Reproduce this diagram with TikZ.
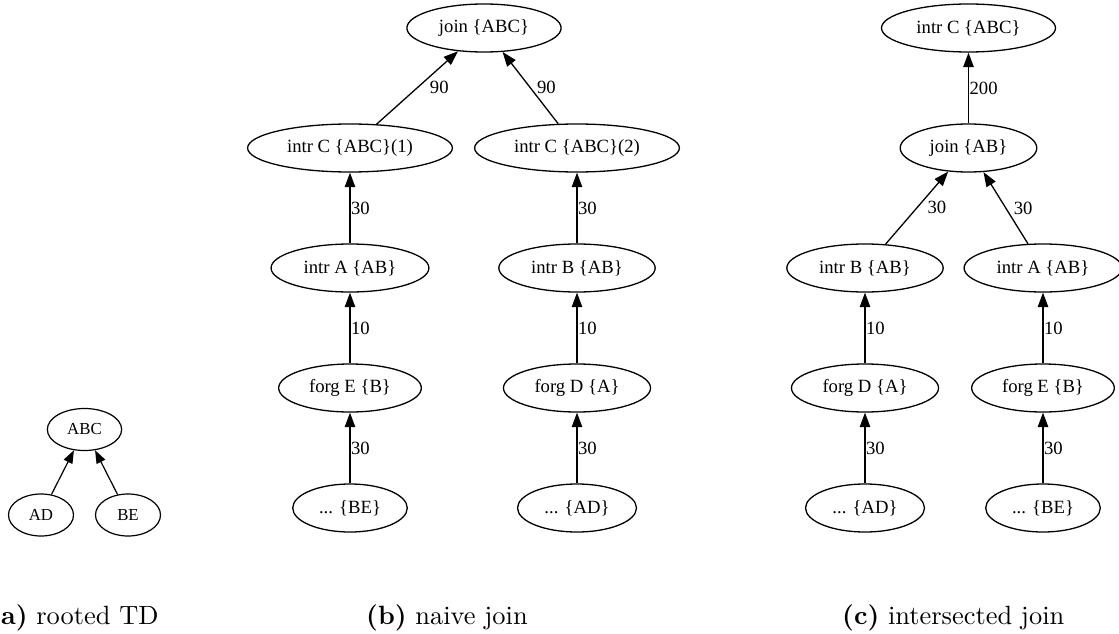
\documentclass[tikz,border=0pt]{standalone}
\usepackage{fontspec}
\newfontfamily\gvfont{Liberation Serif}
\newfontfamily\capfont{lmroman10-regular.otf}[BoldFont=lmroman10-bold.otf]
\usetikzlibrary{shapes.geometric, arrows.meta}

\tikzset{
  gvnode/.style={ellipse, draw, line width=1.3pt,
    font=\gvfont\fontsize{18.67}{22}\selectfont,
    inner xsep=9.5pt, inner ysep=0pt, minimum height=48pt},
  smnode/.style={ellipse, draw, line width=1.2pt,
    font=\gvfont\fontsize{16.8}{20}\selectfont,
    inner xsep=9pt, inner ysep=0pt, minimum height=42pt, minimum width=65pt},
  gvedge/.style={line width=1.3pt, -{Triangle[length=14.5pt,width=10.5pt]}},
  smedge/.style={line width=1.2pt, -{Triangle[length=13pt,width=9.5pt]}},
  lbl/.style={anchor=west, inner sep=0pt, font=\gvfont\fontsize{18.67}{22}\selectfont},
  caption/.style={anchor=base west, inner sep=0pt, font=\capfont\fontsize{26.4}{31}\selectfont}
}

\begin{document}
\begin{tikzpicture}[x=1pt, y=-1pt]
\useasboundingbox (0,0) rectangle (1119,634);

% (a) rooted tree decomposition
\node[smnode] (ABC) at (84.5,429.5) {ABC};
\node[smnode] (AD)  at (41,515)    {AD};
\node[smnode] (BE)  at (128,515)   {BE};
\draw[smedge] (AD) -- (ABC);
\draw[smedge] (BE) -- (ABC);

% (b) naive join
\node[gvnode] (bj)  at (484,28)  {join \{ABC\}};
\node[gvnode] (bc1) at (350,148) {intr C \{ABC\}(1)};
\node[gvnode] (bc2) at (577,148) {intr C \{ABC\}(2)};
\node[gvnode] (ba)  at (350,268) {intr A \{AB\}};
\node[gvnode] (bb)  at (577,268) {intr B \{AB\}};
\node[gvnode] (bfe) at (350,388) {forg E \{B\}};
\node[gvnode] (bfd) at (577,388) {forg D \{A\}};
\node[gvnode] (bbe) at (350,508) {... \{BE\}};
\node[gvnode] (bad) at (577,508) {... \{AD\}};

\draw[gvedge] (bc1) -- (bj)  node[lbl, midway, xshift=12pt] (lb1) {90};
\draw[gvedge] (bc2) -- (bj)  node[lbl, midway, xshift=6pt]  (lb2) {90};
\draw[gvedge] (ba)  -- (bc1) node[lbl, midway, xshift=0.5pt] (lb3) {30};
\draw[gvedge] (bfe) -- (ba)  node[lbl, midway, xshift=0.5pt] (lb4) {10};
\draw[gvedge] (bbe) -- (bfe) node[lbl, midway, xshift=0.5pt] (lb5) {30};
\draw[gvedge] (bb)  -- (bc2) node[lbl, midway, xshift=0.5pt] (lb6) {30};
\draw[gvedge] (bfd) -- (bb)  node[lbl, midway, xshift=0.5pt] (lb7) {10};
\draw[gvedge] (bad) -- (bfd) node[lbl, midway, xshift=0.5pt] (lb8) {30};

% (c) intersected join
\node[gvnode] (ct)  at (968.5,28)  {intr C \{ABC\}};
\node[gvnode] (cj)  at (968.5,148) {join \{AB\}};
\node[gvnode] (cb)  at (865,268)   {intr B \{AB\}};
\node[gvnode] (ca)  at (1043,268)  {intr A \{AB\}};
\node[gvnode] (cfd) at (865,388)   {forg D \{A\}};
\node[gvnode] (cfe) at (1043,388)  {forg E \{B\}};
\node[gvnode] (cad) at (865,508)   {... \{AD\}};
\node[gvnode] (cbe) at (1043,508)  {... \{BE\}};

\draw[gvedge] (cj)  -- (ct)  node[lbl, midway, xshift=0.5pt] (lc1) {200};
\draw[gvedge] (cb)  -- (cj)  node[lbl, midway, xshift=10pt]  (lc2) {30};
\draw[gvedge] (ca)  -- (cj)  node[lbl, midway, xshift=7.5pt] (lc3) {30};
\draw[gvedge] (cfd) -- (cb)  node[lbl, midway, xshift=0.5pt] (lc4) {10};
\draw[gvedge] (cad) -- (cfd) node[lbl, midway, xshift=0.5pt] (lc5) {30};
\draw[gvedge] (cfe) -- (ca)  node[lbl, midway, xshift=0.5pt] (lc6) {10};
\draw[gvedge] (cbe) -- (cfe) node[lbl, midway, xshift=0.5pt] (lc7) {30};

% sub-figure captions
\node[caption] (capa) at (-11,624) {\textbf{(a)} rooted TD};
\node[caption] (capb) at (366,624) {\textbf{(b)} naive join};
\node[caption] (capc) at (842,624) {\textbf{(c)} intersected join};
\end{tikzpicture}
\end{document}
